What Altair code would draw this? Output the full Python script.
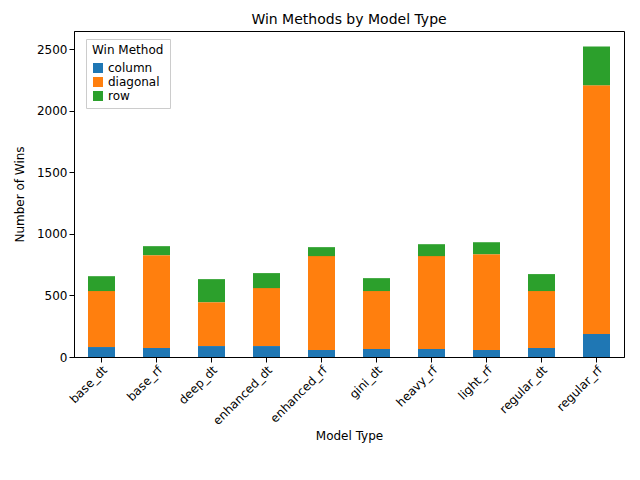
import altair as alt
import pandas as pd

models = ['base_dt', 'base_rf', 'deep_dt', 'enhanced_dt', 'enhanced_rf',
          'gini_dt', 'heavy_rf', 'light_rf', 'regular_dt', 'regular_rf']
column_wins = [81, 73, 89, 89, 57, 65, 65, 57, 73, 187]
diagonal_wins = [455, 755, 357, 471, 763, 471, 755, 779, 463, 2021]
row_wins = [121, 73, 187, 122, 73, 105, 97, 97, 138, 316]

methods = ['column', 'diagonal', 'row']
rows = []
for i, m in enumerate(models):
    for k, (meth, vals) in enumerate(zip(methods, [column_wins, diagonal_wins, row_wins])):
        rows.append({'Model Type': m, 'Win Method': meth, 'wins': vals[i], 'ord': k})
df = pd.DataFrame(rows)

chart = alt.Chart(df).mark_bar(size=27).encode(
    x=alt.X('Model Type:N', sort=models,
            axis=alt.Axis(labelAngle=-45, labelAlign='right', labelBaseline='top',
                          domainColor='black', tickColor='black')),
    y=alt.Y('wins:Q', title='Number of Wins', scale=alt.Scale(domain=[0, 2650], nice=False),
            axis=alt.Axis(values=[0, 500, 1000, 1500, 2000, 2500], format='d', grid=False,
                          domainColor='black', tickColor='black', titlePadding=10)),
    color=alt.Color('Win Method:N', scale=alt.Scale(domain=methods, range=['#1f77b4', '#ff7f0e', '#2ca02c']),
                    legend=alt.Legend(orient='none', legendX=12, legendY=8, symbolType='square',
                                      fillColor='white', strokeColor='#cccccc', padding=6,
                                      titleFontWeight='normal', titleFontSize=12, labelFontSize=12,
                                      titleFont='DejaVu Sans', labelFont='DejaVu Sans')),
    order=alt.Order('ord:Q')
).properties(
    width=550, height=326,
    title=alt.Title('Win Methods by Model Type', fontSize=14, fontWeight='normal', font='DejaVu Sans')
).configure_view(stroke='black').configure_axis(
    labelFontSize=12, titleFontSize=12, titleFontWeight='normal', labelColor='black', titleColor='black',
    labelFont='DejaVu Sans', titleFont='DejaVu Sans'
)

chart.save("out.html", embed_options={"renderer": "svg", "actions": False})
